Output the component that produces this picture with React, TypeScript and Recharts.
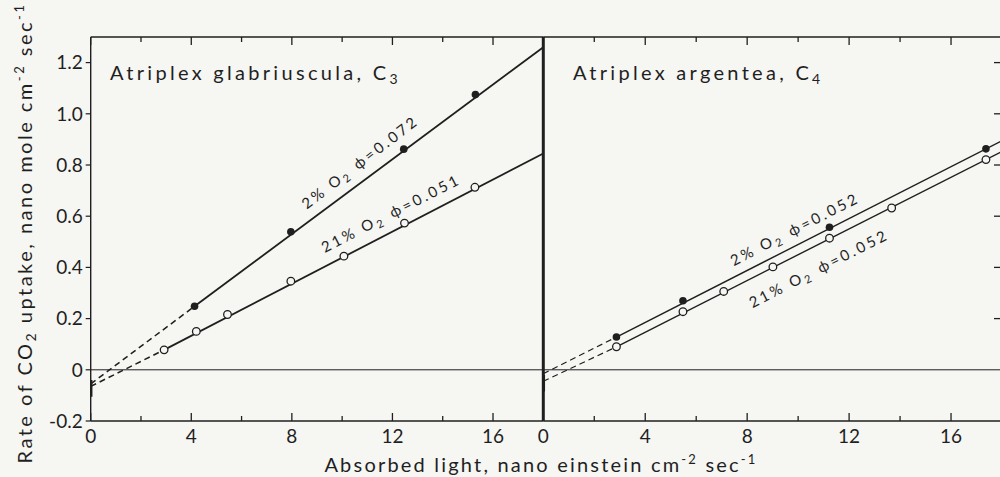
import React from "react";
import {
  ComposedChart,
  Line,
  Scatter,
  XAxis,
  YAxis,
  ReferenceLine,
  ReferenceDot,
} from "recharts";

const INK = "#1f1f1f";
const PAPER = "#f6f6f3";
const FONT = "Lato, 'DejaVu Sans', sans-serif";

const xTicks = [0, 2, 4, 6, 8, 10, 12, 14, 16];
const xLabelTicks = [0, 4, 8, 12, 16];
const yTicks = [-0.2, 0, 0.2, 0.4, 0.6, 0.8, 1.0, 1.2];
const innerYTicks = [0.2, 0.4, 0.6, 0.8, 1.0, 1.2];
const xDomain = [0, 18];
const yDomain = [-0.2, 1.3];

// Atriplex glabriuscula (C3)
const c3LightLow = [4.13, 7.96, 12.45, 15.3];
const c3RateLow = [0.248, 0.539, 0.862, 1.075];
const c3LightAir = [2.92, 4.2, 5.44, 7.96, 10.07, 12.48, 15.28];
const c3RateAir = [0.078, 0.15, 0.216, 0.346, 0.444, 0.573, 0.713];
// fitted lines: intercept, first measured point, value at panel edge
const c3FitLowX = [0, 4.13, 18];
const c3FitLowY = [-0.055, 0.248, 1.26];
const c3FitAirX = [0, 2.92, 18];
const c3FitAirY = [-0.065, 0.078, 0.845];
const c3DarkY = [-0.04, -0.105];

// Atriplex argentea (C4)
const c4LightLow = [2.87, 5.48, 11.23, 17.37];
const c4RateLow = [0.128, 0.27, 0.557, 0.863];
const c4LightAir = [2.87, 5.48, 7.08, 9.01, 11.23, 13.67, 17.37];
const c4RateAir = [0.09, 0.227, 0.306, 0.402, 0.514, 0.632, 0.821];
const c4FitLowX = [0, 2.87, 18];
const c4FitLowY = [-0.015, 0.128, 0.895];
const c4FitAirX = [0, 2.87, 18];
const c4FitAirY = [-0.045, 0.09, 0.853];
const c4DarkY = [-0.02, -0.085];

const o2Labels = ["2%", "21%"];
const c3Phi = ["0.072", "0.051"];
const c4Phi = ["0.052", "0.052"];

// plot box is 383px tall; used to turn tick lengths into data units
const PLOT_H = 383;
const yPerPx = (yDomain[1] - yDomain[0]) / PLOT_H;

type Pt = { x: number; y: number };
const zip = (xs: number[], ys: number[]): Pt[] => xs.map((x, i) => ({ x, y: ys[i] }));
const darkPts = (ys: number[]): Pt[] => ys.map((y) => ({ x: 0, y }));

type Note = { x: number; y: number; angle: number; o2: string; phi: string };

function BottomLabel(props: any) {
  const { x, y, payload } = props;
  return (
    <text x={x} y={y + 22} textAnchor="middle" fontSize={19} fill={INK} fontFamily={FONT}>
      {payload.value}
    </text>
  );
}

function NoteText({ cx, cy, n }: { cx: number; cy: number; n: Note }) {
  return (
    <text
      transform={`translate(${cx},${cy}) rotate(${n.angle})`}
      textAnchor="middle"
      dominantBaseline="central"
      fontSize={15}
      letterSpacing={2.8}
      fill={INK}
      fontFamily={FONT}
    >
      {n.o2} O
      <tspan dy={4} fontSize={11}>2</tspan>
      <tspan dy={-4} dx={8}>ϕ=</tspan>
      {n.phi}
    </text>
  );
}

function Panel(props: {
  isLeft: boolean;
  lowPts: Pt[];
  airPts: Pt[];
  lowFit: Pt[];
  airFit: Pt[];
  dark: Pt[];
  notes: Note[];
  lineWidth: number;
}) {
  const { isLeft, lowPts, airPts, lowFit, airFit, dark, notes, lineWidth } = props;
  const width = isLeft ? 560 : 503;
  const margin = isLeft
    ? { top: 37, right: 16.7, bottom: 26, left: 30.7 }
    : { top: 37, right: 0, bottom: 26, left: 42.3 };
  const plotW = isLeft ? 560 - 16.7 - 90.7 : 503 - 42.3 - 1 - 1;
  const xPerPx = (xDomain[1] - xDomain[0]) / plotW;
  return (
    <div style={{ position: "absolute", left: isLeft ? 0 : 500, top: 0 }}>
      <ComposedChart width={width} height={477} margin={margin}>
        <XAxis
          type="number"
          dataKey="x"
          domain={xDomain}
          ticks={xLabelTicks}
          interval={0}
          allowDataOverflow
          height={30}
          tickSize={0}
          tickMargin={0}
          tickLine={false}
          tick={(p: any) => <BottomLabel {...p} />}
          axisLine={false}
        />
        <YAxis
          type="number"
          dataKey="y"
          domain={yDomain}
          ticks={yTicks}
          interval={0}
          allowDataOverflow
          width={isLeft ? 60 : 1}
          tickSize={5}
          tickMargin={3}
          tickLine={isLeft ? { stroke: INK, strokeWidth: 1.2 } : false}
          tick={isLeft ? { fontSize: 19, fill: INK, fontFamily: FONT } : false}
          tickFormatter={(v: number) => (v === 0 ? "0" : v.toFixed(1))}
          axisLine={false}
        />
        {!isLeft && (
          <YAxis
            yAxisId="r"
            orientation="right"
            type="number"
            domain={yDomain}
            width={1}
            tick={false}
            tickLine={false}
            axisLine={false}
          />
        )}
        {/* panel frame */}
        <ReferenceLine y={yDomain[1]} stroke={INK} strokeWidth={1.3} />
        <ReferenceLine y={yDomain[0]} stroke={INK} strokeWidth={1.3} />
        <ReferenceLine x={0} stroke={INK} strokeWidth={isLeft ? 1.4 : 3} />
        <ReferenceLine y={0} stroke={INK} strokeWidth={1} />
        {/* inward ticks on bottom and top edges */}
        {xTicks.map((t) => {
          const len = (t % 4 === 0 ? 8 : 5) * yPerPx;
          return [
            <ReferenceLine
              key={`b${t}`}
              segment={[{ x: t, y: yDomain[0] }, { x: t, y: yDomain[0] + len }]}
              stroke={INK}
              strokeWidth={1.3}
            />,
            <ReferenceLine
              key={`t${t}`}
              segment={[{ x: t, y: yDomain[1] }, { x: t, y: yDomain[1] - len }]}
              stroke={INK}
              strokeWidth={1.3}
            />,
          ];
        })}
        {/* inward ticks on right edge of the C4 panel */}
        {!isLeft &&
          innerYTicks.map((t) => (
            <ReferenceLine
              key={`r${t}`}
              segment={[{ x: xDomain[1], y: t }, { x: xDomain[1] - 8 * xPerPx, y: t }]}
              stroke={INK}
              strokeWidth={1.3}
            />
          ))}
        <Line data={lowFit.slice(0, 2)} dataKey="y" stroke={INK} strokeWidth={lineWidth * 0.85} strokeDasharray="6 4" dot={false} activeDot={false} isAnimationActive={false} />
        <Line data={airFit.slice(0, 2)} dataKey="y" stroke={INK} strokeWidth={lineWidth * 0.85} strokeDasharray="6 4" dot={false} activeDot={false} isAnimationActive={false} />
        <Line data={lowFit.slice(1)} dataKey="y" stroke={INK} strokeWidth={lineWidth} dot={false} activeDot={false} isAnimationActive={false} />
        <Line data={airFit.slice(1)} dataKey="y" stroke={INK} strokeWidth={lineWidth} dot={false} activeDot={false} isAnimationActive={false} />
        <Line data={dark} dataKey="y" stroke={INK} strokeWidth={3.5} dot={false} activeDot={false} isAnimationActive={false} />
        <Scatter
          data={lowPts}
          dataKey="y"
          isAnimationActive={false}
          shape={(p: any) => <circle cx={p.cx} cy={p.cy} r={3.8} fill={INK} />}
        />
        <Scatter
          data={airPts}
          dataKey="y"
          isAnimationActive={false}
          shape={(p: any) => (
            <circle cx={p.cx} cy={p.cy} r={3.8} fill={PAPER} stroke={INK} strokeWidth={1.3} />
          )}
        />
        {notes.map((n, i) => (
          <ReferenceDot
            key={i}
            x={n.x}
            y={n.y}
            r={0}
            ifOverflow="visible"
            shape={(p: any) => <NoteText cx={p.cx} cy={p.cy} n={n} />}
          />
        ))}
      </ComposedChart>
    </div>
  );
}

export default function App() {
  const c3Notes: Note[] = [
    { x: 10.7, y: 0.813, angle: -37.5, o2: o2Labels[0], phi: c3Phi[0] },
    { x: 11.93, y: 0.614, angle: -27, o2: o2Labels[1], phi: c3Phi[1] },
  ];
  const c4Notes: Note[] = [
    { x: 9.86, y: 0.552, angle: -27, o2: o2Labels[0], phi: c4Phi[0] },
    { x: 10.8, y: 0.398, angle: -27, o2: o2Labels[1], phi: c4Phi[1] },
  ];
  return (
    <div
      style={{
        position: "fixed",
        left: 0,
        top: 0,
        width: 1000,
        height: 477,
        background: PAPER,
        overflow: "hidden",
        fontFamily: FONT,
      }}
    >
      <Panel
        isLeft
        lowPts={zip(c3LightLow, c3RateLow)}
        airPts={zip(c3LightAir, c3RateAir)}
        lowFit={zip(c3FitLowX, c3FitLowY)}
        airFit={zip(c3FitAirX, c3FitAirY)}
        dark={darkPts(c3DarkY)}
        notes={c3Notes}
        lineWidth={1.8}
      />
      <Panel
        isLeft={false}
        lowPts={zip(c4LightLow, c4RateLow)}
        airPts={zip(c4LightAir, c4RateAir)}
        lowFit={zip(c4FitLowX, c4FitLowY)}
        airFit={zip(c4FitAirX, c4FitAirY)}
        dark={darkPts(c4DarkY)}
        notes={c4Notes}
        lineWidth={1.4}
      />
      <svg
        width={1000}
        height={477}
        style={{ position: "absolute", left: 0, top: 0, pointerEvents: "none" }}
        fontFamily={FONT}
        fill={INK}
      >
        <text x={110} y={79.5} fontSize={20} letterSpacing={3.3}>
          Atriplex glabriuscula, C<tspan dy={4} fontSize={14}>3</tspan>
        </text>
        <text x={573} y={80} fontSize={20} letterSpacing={3.3}>
          Atriplex argentea, C<tspan dy={4} fontSize={14}>4</tspan>
        </text>
        <text x={541} y={472} textAnchor="middle" fontSize={20} letterSpacing={2.2}>
          Absorbed light, nano einstein cm<tspan dy={-8} fontSize={13}>-2</tspan>
          <tspan dy={8}> sec</tspan>
          <tspan dy={-8} fontSize={13}>-1</tspan>
        </text>
        <text transform="translate(32,233) rotate(-90)" textAnchor="middle" fontSize={20} letterSpacing={2.5}>
          Rate of CO<tspan dy={4} fontSize={14}>2</tspan>
          <tspan dy={-4}> uptake, nano mole cm</tspan>
          <tspan dy={-8} fontSize={13}>-2</tspan>
          <tspan dy={8}> sec</tspan>
          <tspan dy={-8} fontSize={13}>-1</tspan>
        </text>
      </svg>
    </div>
  );
}
